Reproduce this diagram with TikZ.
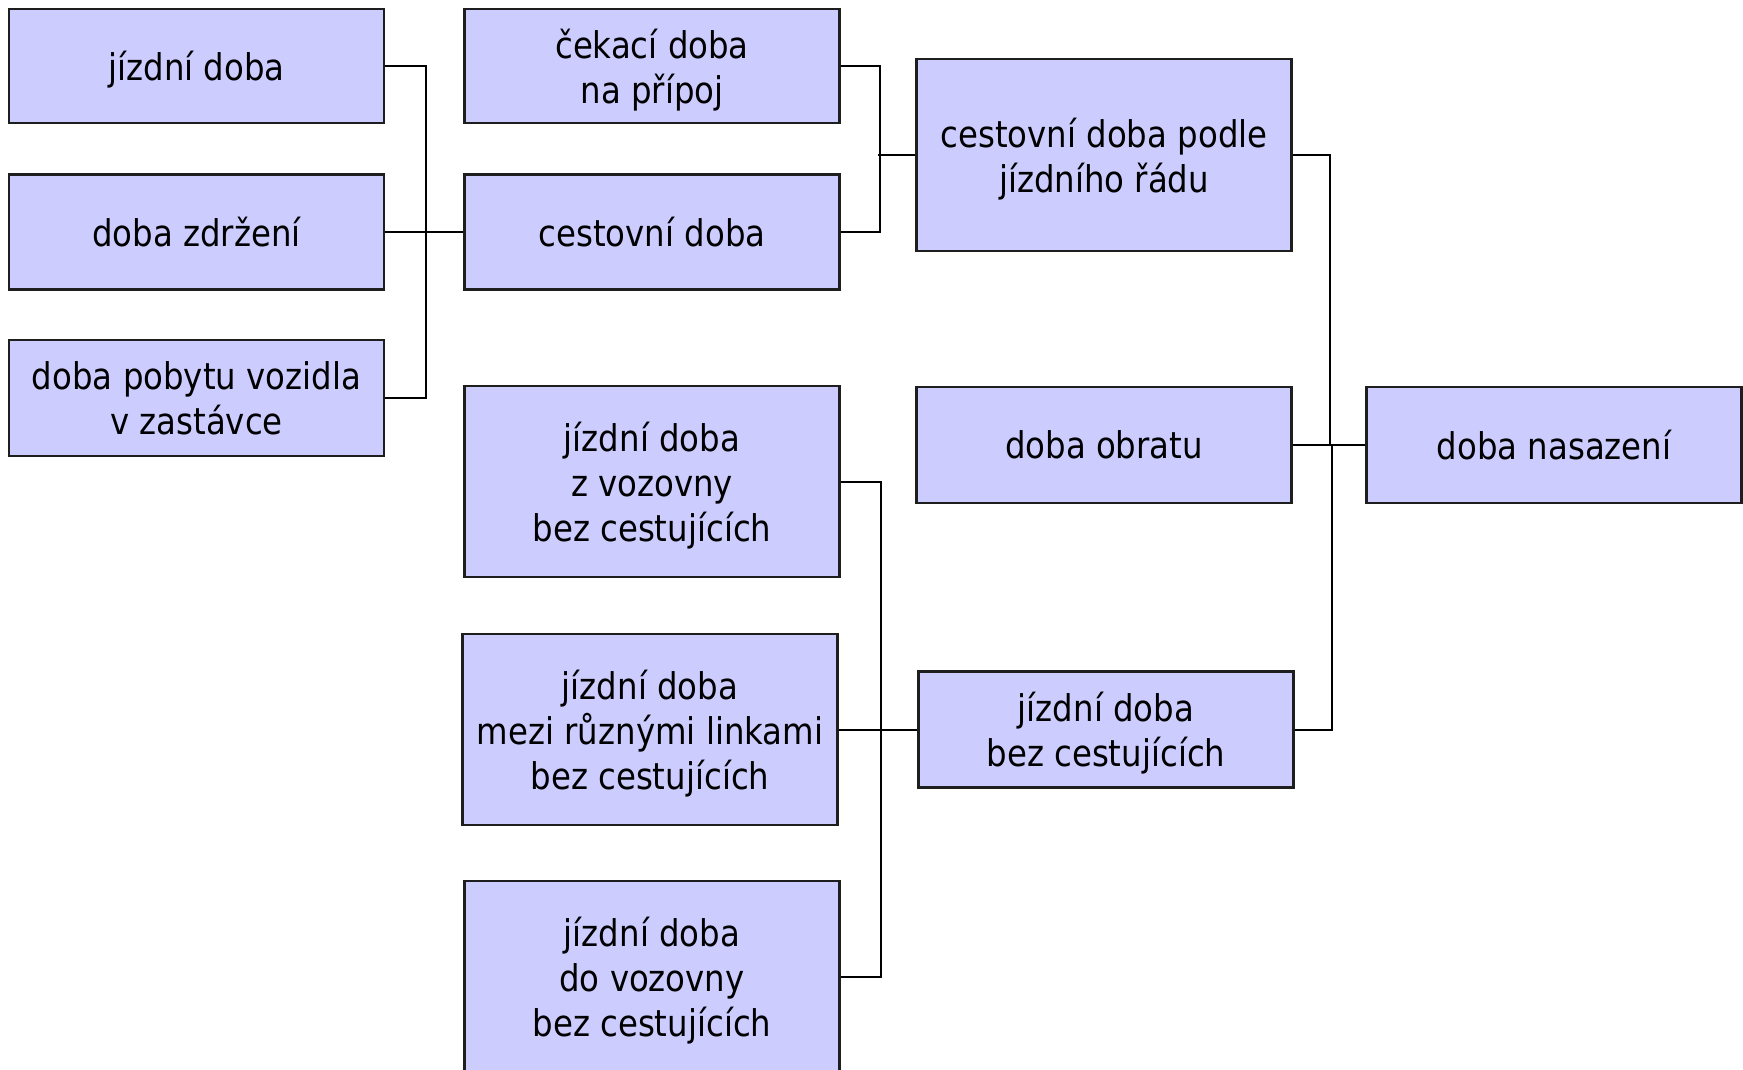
\documentclass[tikz,border=0pt]{standalone}
\usepackage{fontspec}
\setmainfont{DejaVu Sans}[FakeStretch=0.88]
\definecolor{boxfill}{RGB}{204,204,255}
\definecolor{boxline}{RGB}{30,30,30}
\begin{document}
\begin{tikzpicture}[x=1pt,y=-1pt,
  box/.style={draw=boxline, line width=2.4pt, fill=boxfill, minimum width=375pt,
    inner sep=0pt, align=center, text depth=0pt, font=\fontsize{36.8}{45}\selectfont},
  conn/.style={draw=black, line width=2pt}]
\useasboundingbox (0,0) rectangle (1743,1070);
\node[box, minimum height=114pt] (A) at (196.5,66) {jízdní doba};
\node[box, minimum height=115pt] (B) at (196.5,232) {doba zdržení};
\node[box, minimum height=116pt] (C) at (196.5,398) {doba pobytu vozidla\\v zastávce};
\node[box, minimum height=114pt] (D) at (652,66) {čekací doba\\na přípoj};
\node[box, minimum height=115pt] (E) at (652,232) {cestovní doba};
\node[box, minimum height=192pt] (F) at (1104,155) {cestovní doba podle\\jízdního řádu};
\node[box, minimum height=116pt] (G) at (1104,445) {doba obratu};
\node[box, minimum height=116pt] (H) at (1554,445) {doba nasazení};
\node[box, minimum height=191pt] (I) at (652,481.5) {jízdní doba\\z vozovny\\bez cestujících};
\node[box, minimum height=191pt] (J) at (650,729.5) {jízdní doba\\mezi různými linkami\\bez cestujících};
\node[box, minimum height=192pt] (K) at (652,977) {jízdní doba\\do vozovny\\bez cestujících};
\node[box, minimum height=116pt] (L) at (1106,729.5) {jízdní doba\\bez cestujících};
\coordinate (b2) at (878,155);
\draw[conn] (A.east) -- ++(41,0) |- (C.east);
\draw[conn] (B.east) -- (E.west);
\draw[conn] (D.east) -- ++(39,0) |- (E.east);
\draw[conn] (b2) -- (F.west);
\draw[conn] (F.east) -- ++(37,0) |- (H.west);
\draw[conn] (L.east) -- ++(37,0) |- (H.west);
\draw[conn] (G.east) -- (H.west);
\draw[conn] (I.east) -- ++(40,0) |- (K.east);
\draw[conn] (J.east) -- (L.west);
\end{tikzpicture}
\end{document}
